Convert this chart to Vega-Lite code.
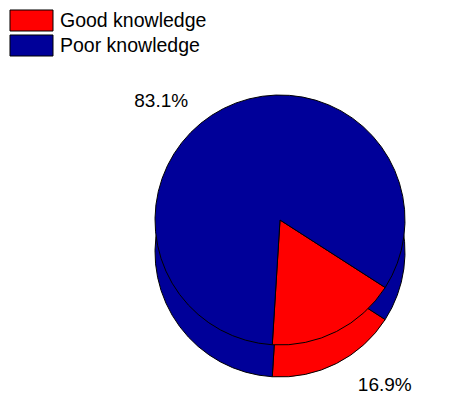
{
  "$schema": "https://vega.github.io/schema/vega-lite/v6.json",
  "width": 380,
  "height": 320,
  "autosize": {"type": "none"},
  "padding": {"left": 90, "top": 60, "right": 0, "bottom": 15},
  "background": "white",
  "config": {"view": {"stroke": null}},
  "data": {"values": [
    {"knowledge": "Good knowledge", "pct": 0.169},
    {"knowledge": "Poor knowledge", "pct": 0.831}
  ]},
  "encoding": {
    "theta": {"field": "pct", "type": "quantitative", "stack": true, "scale": {"range": [2.1416, 8.4248]}}
  },
  "layer": [
    {
      "mark": {"type": "arc", "radius": 125, "yOffset": 32, "stroke": "#000000", "strokeWidth": 1},
      "encoding": {
        "color": {
          "field": "knowledge", "type": "nominal",
          "scale": {"domain": ["Good knowledge", "Poor knowledge"], "range": ["#FF0000", "#000099"]},
          "legend": {
            "title": null,
            "orient": "none",
            "legendX": -70,
            "legendY": -51,
            "padding": 0,
            "symbolType": "M-1.955,-0.955H1.955V0.955H-1.955Z",
            "symbolSize": 484,
            "symbolStrokeColor": "#000000",
            "symbolStrokeWidth": 1,
            "symbolOpacity": 1,
            "labelFont": "Liberation Sans",
            "labelFontSize": 19.5,
            "labelColor": "#000000",
            "labelOffset": 17,
            "rowPadding": -3
          }
        }
      }
    },
    {
      "mark": {"type": "arc", "radius": 125, "stroke": "#000000", "strokeWidth": 1},
      "encoding": {"color": {"field": "knowledge", "type": "nominal"}}
    },
    {
      "mark": {"type": "text", "radius": 150, "dx": -51, "dy": 15, "font": "Liberation Sans", "fontSize": 19, "color": "#000000", "align": "center", "baseline": "middle"},
      "encoding": {
        "detail": {"field": "knowledge", "type": "nominal"},
        "text": {"field": "pct", "type": "quantitative", "format": ".1%"},
        "opacity": {"condition": {"test": "datum.knowledge === 'Poor knowledge'", "value": 1}, "value": 0}
      }
    },
    {
      "mark": {"type": "text", "radius": 150, "dx": 37, "dy": 31, "font": "Liberation Sans", "fontSize": 19, "color": "#000000", "align": "center", "baseline": "middle"},
      "encoding": {
        "detail": {"field": "knowledge", "type": "nominal"},
        "text": {"field": "pct", "type": "quantitative", "format": ".1%"},
        "opacity": {"condition": {"test": "datum.knowledge === 'Good knowledge'", "value": 1}, "value": 0}
      }
    }
  ]
}
